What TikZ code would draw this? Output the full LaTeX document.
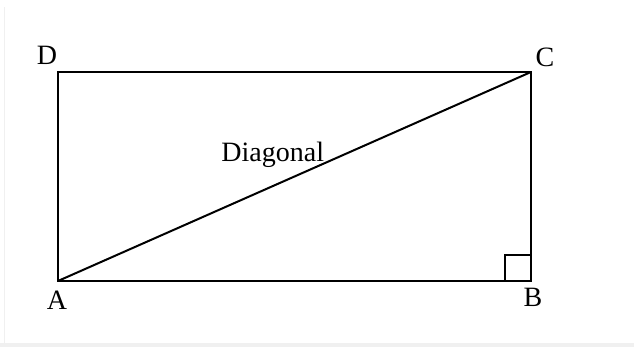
\documentclass[tikz,border=0pt]{standalone}
\usepackage{fontspec}
\setmainfont{Liberation Serif}
\usetikzlibrary{positioning}

\begin{document}
\begin{tikzpicture}[x=0.5pt,y=0.5pt,
        lbl/.style={inner sep=0pt, font=\fontsize{14}{16}\selectfont},
        edge/.style={line width=1pt}]
        % Canvas and faint frame
        \useasboundingbox (0,0) rectangle (634,347);
        \fill[black!6] (0,0) rectangle (634,4);
        \draw[black!6, line width=0.5pt] (5,4) -- (5,340);

        % Define the corners of the rectangle
        \coordinate (A) at (58,66);
        \coordinate (B) at (531,66);
        \coordinate (C) at (531,275);
        \coordinate (D) at (58,275);

        % Draw the rectangle and its diagonal
        \draw[edge] (A) -- (B) -- (C) -- (D) -- cycle;
        \draw[edge] (A) -- (C);

        % Right angle mark at B
        \draw[edge] ([xshift=-13pt]B) |- ([yshift=13pt]B);

        % Corner labels
        \node[lbl] (labD) at (47,292) {D};
        \node[lbl] (labC) at (545,290) {C};
        \node[lbl] (labA) at (57,47) {A};
        \node[lbl] (labB) at (533,50) {B};

        % Label the diagonal
        \node[lbl, anchor=base west] (diag) at (221,185) {Diagonal};
    \end{tikzpicture}
\end{document}
